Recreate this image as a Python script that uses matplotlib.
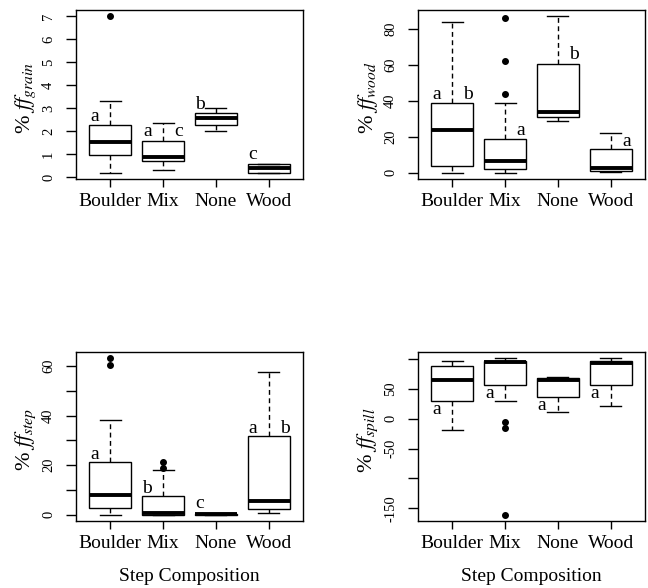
import matplotlib.pyplot as plt
from matplotlib.ticker import FixedLocator, FixedFormatter

plt.rcParams['font.family'] = 'Liberation Serif'
plt.rcParams['mathtext.fontset'] = 'stix'

groups = ['Boulder', 'Mix', 'None', 'Wood']

# box summaries: (whislo, q1, median, q3, whishi)
grain_box = [(0.2, 0.95, 1.55, 2.28, 3.3),
             (0.3, 0.7, 0.9, 1.6, 2.38),
             (2.0, 2.28, 2.58, 2.8, 3.0),
             (0.2, 0.2, 0.4, 0.6, 0.6)]
grain_out = [[7.0], [], [], []]
grain_sig = [('Boulder', 'a', 'L', 2.63), ('Mix', 'a', 'L', 2.0), ('Mix', 'c', 'R', 2.0),
             ('None', 'b', 'L', 3.16), ('Wood', 'c', 'L', 1.0)]

wood_box = [(0.0, 4.0, 24.0, 39.0, 84.0),
            (0.0, 2.0, 6.5, 19.0, 39.0),
            (28.5, 31.0, 33.5, 60.5, 87.0),
            (0.5, 1.0, 2.5, 13.0, 22.0)]
wood_out = [[], [44.0, 62.0, 86.0], [], []]
wood_sig = [('Boulder', 'a', 'L', 43.7), ('Boulder', 'b', 'R', 43.7), ('Mix', 'a', 'R', 23.5),
            ('None', 'b', 'R', 66.0), ('Wood', 'a', 'R', 17.4)]

step_box = [(0.0, 2.9, 7.8, 21.3, 38.3),
            (0.0, 0.0, 0.9, 7.6, 18.1),
            (0.0, 0.0, 0.2, 0.4, 0.4),
            (0.7, 2.3, 5.4, 31.8, 57.6)]
step_out = [[60.3, 63.2], [19.0, 21.2], [], []]
step_sig = [('Boulder', 'a', 'L', 24.4), ('Mix', 'b', 'L', 10.7), ('None', 'c', 'L', 4.7),
            ('Wood', 'a', 'L', 34.8), ('Wood', 'b', 'R', 34.8)]

spill_box = [(-19.0, 29.0, 65.0, 89.0, 97.0),
             (29.0, 56.5, 95.0, 97.5, 101.5),
             (12.0, 36.0, 65.0, 68.0, 70.5),
             (21.0, 56.5, 93.5, 97.5, 101.5)]
spill_out = [[], [-5.0, -15.0, -161.0], [], []]
spill_sig = [('Boulder', 'a', 'L', 15.0), ('Mix', 'a', 'L', 43.0), ('None', 'a', 'L', 22.0),
             ('Wood', 'a', 'L', 43.0)]

grain_ticks = [0, 1, 2, 3, 4, 5, 6, 7]
grain_labels = ['0', '1', '2', '3', '4', '5', '6', '7']
wood_ticks = [0, 20, 40, 60, 80]
wood_labels = ['0', '20', '40', '60', '80']
step_ticks = [0, 10, 20, 30, 40, 50, 60]
step_labels = ['0', '', '20', '', '40', '', '60']
spill_ticks = [-150, -100, -50, 0, 50, 100]
spill_labels = ['-150', '', '-50', '0', '50', '']

panels = [
    ('grain', grain_box, grain_out, grain_sig, grain_ticks, grain_labels),
    ('wood', wood_box, wood_out, wood_sig, wood_ticks, wood_labels),
    ('step', step_box, step_out, step_sig, step_ticks, step_labels),
    ('spill', spill_box, spill_out, spill_sig, spill_ticks, spill_labels),
]

fig = plt.figure(figsize=(6.48, 5.88), dpi=100)
W, H = 648, 588
frames = [(76, 10), (418, 10), (76, 352), (418, 352)]  # left, top in px
fw, fh = 227, 169

for (name, box, out, sig, ticks, tlabels), (lx, ty) in zip(panels, frames):
    ax = fig.add_axes([lx / W, 1 - (ty + fh) / H, fw / W, fh / H])
    stats = []
    for g, (lo, q1, med, q3, hi), fl in zip(groups, box, out):
        stats.append(dict(label=g, whislo=lo, q1=q1, med=med, q3=q3, whishi=hi, fliers=fl))
    ax.bxp(stats, positions=[1, 2, 3, 4], widths=0.8, capwidths=0.4,
           patch_artist=True,
           boxprops=dict(facecolor='white', edgecolor='black', linewidth=1.0),
           whiskerprops=dict(color='black', linewidth=1.0, linestyle=(0, (3.5, 2.5))),
           capprops=dict(color='black', linewidth=1.0),
           medianprops=dict(color='black', linewidth=2.8, solid_capstyle='butt'),
           flierprops=dict(marker='o', markerfacecolor='black', markeredgecolor='black',
                           markersize=4))

    # R-style axis limits: 4% padding around the data
    vals = [v for b in box for v in b] + [v for f in out for v in f]
    lo, hi = min(vals), max(vals)
    pad = 0.04 * (hi - lo)
    ax.set_ylim(lo - pad, hi + pad)
    ax.set_xlim(0.35, 4.65)

    for g, letter, side, yv in sig:
        x = groups.index(g) + 1 + (-0.3 if side == 'L' else 0.3)
        ax.text(x, yv, letter, ha='center', va='center', fontsize=14)

    ax.yaxis.set_major_locator(FixedLocator(ticks))
    ax.yaxis.set_major_formatter(FixedFormatter(tlabels))
    ax.tick_params(axis='y', length=7, width=1, pad=8, labelsize=10.5)
    ax.tick_params(axis='x', length=6, width=1, pad=4, labelsize=14)
    for t in ax.get_yticklabels():
        t.set_rotation(90)
        t.set_va('center')
    for sp in ax.spines.values():
        sp.set_linewidth(1.0)

    ax.text(-0.22, 0.48, r'% $\mathit{ff}_{\mathit{' + name + '}}$', rotation=90,
            ha='center', va='center', fontsize=16, transform=ax.transAxes)

    if ty > 100:
        ax.set_xlabel('Step Composition', fontsize=14)
        ax.xaxis.set_label_coords(0.5, -0.33)
        ax.xaxis.label.set_va('center')

fig.savefig('out.png', dpi=100)
